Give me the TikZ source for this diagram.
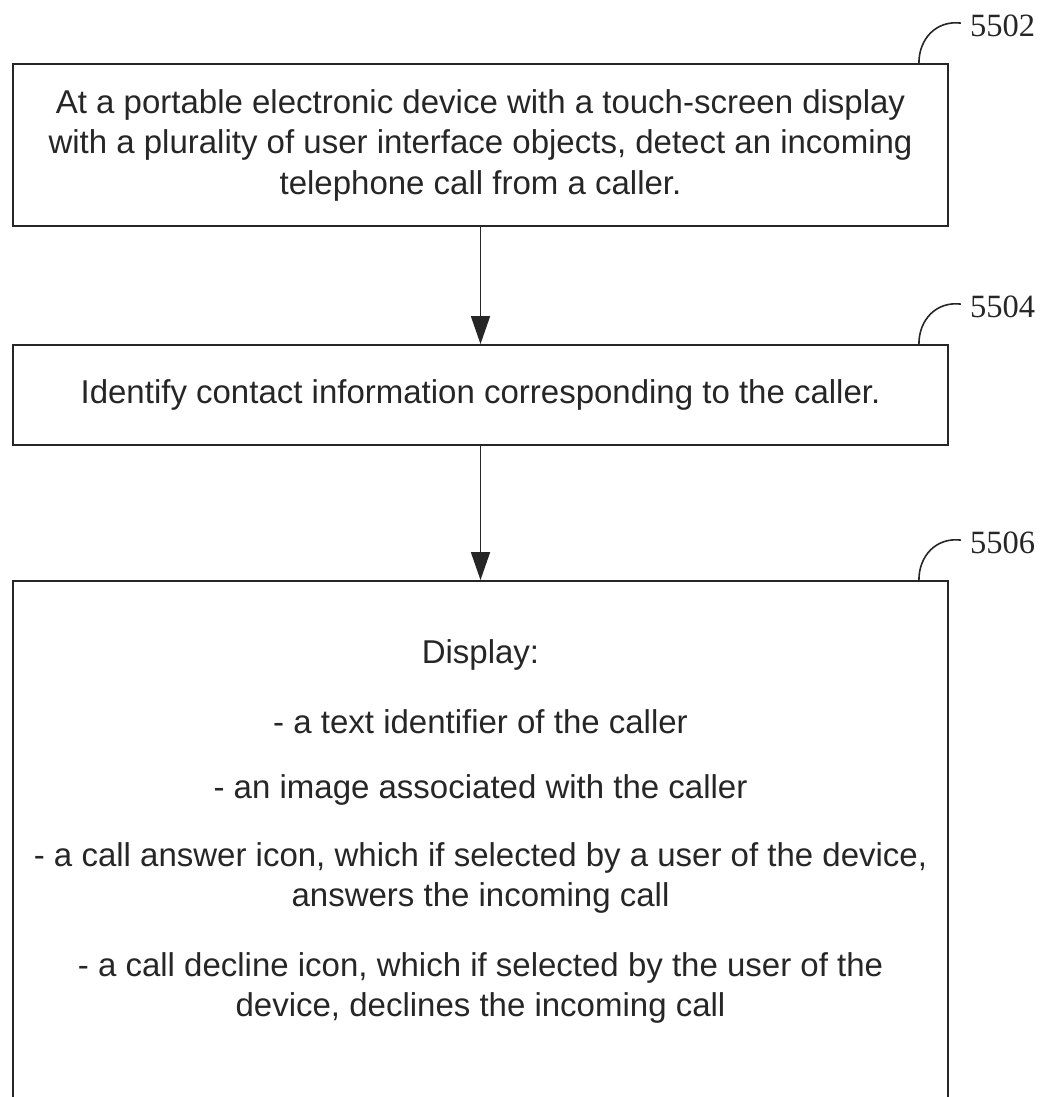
\documentclass[tikz,border=0pt]{standalone}
\usepackage{fontspec}
\setmainfont{Liberation Sans}
\newfontfamily\labelfont{Liberation Serif}
\usetikzlibrary{arrows.meta,calc}
\begin{document}
\begin{tikzpicture}[x=1pt,y=-1pt,
  box/.style={draw=black!85, line width=1.8pt, minimum width=935pt, inner sep=0pt, align=center,
    font=\fontsize{33}{40.5}\selectfont, text=black!85},
  txt/.style={font=\fontsize{33}{40}\selectfont, align=center, text=black!85, inner sep=0pt},
  reflabel/.style={font=\labelfont\fontsize{32.5}{32}\selectfont, anchor=west, text=black!85, inner sep=0pt},
  lead/.style={draw=black!85, line width=1.6pt},
  flow/.style={draw=black!85, line width=1.6pt, -{Triangle[length=28pt,width=19pt]}}]
\useasboundingbox (0,0) rectangle (1041,1097);
\clip (0,0) rectangle (1041,1097);
% boxes
\node[box, minimum height=162pt] (b1) at (480.5,145)
  {At a portable electronic device with a touch-screen display\\
   with a plurality of user interface objects, detect an incoming\\
   telephone call from a caller.};
\node[box, minimum height=100pt] (b2) at (480.5,395)
  {Identify contact information corresponding to the caller.};
\node[box, minimum height=559pt] (b3) at (480.5,860.5) {};
% texts in box 3
\node[txt] (d0) at (480.5,655) {Display:};
\node[txt] (d1) at (480.5,722) {- a text identifier of the caller};
\node[txt] (d2) at (480.5,790) {- an image associated with the caller};
\node[txt] (d3) at (480.5,878) {- a call answer icon, which if selected by a user of the device,\\answers the incoming call};
\node[txt] (d4) at (480.5,988) {- a call decline icon, which if selected by the user of the\\device, declines the incoming call};
% flow arrows
\draw[flow] (b1.south) -- (b2.north);
\draw[flow] (b2.south) -- (b3.north);
% reference labels
\coordinate (s1) at ($(b1.north east)+(-30,0)$);
\coordinate (e1) at ($(b1.north east)+(12,-40)$);
\node[reflabel] (r1) at ($(e1)+(9,3)$) {5502};
\draw[lead] (s1) .. controls ($(s1)+(0,-24)$) and ($(e1)+(-25,-3)$) .. (e1);
\coordinate (s2) at ($(b2.north east)+(-30,0)$);
\coordinate (e2) at ($(b2.north east)+(12,-40)$);
\node[reflabel] (r2) at ($(e2)+(9,3)$) {5504};
\draw[lead] (s2) .. controls ($(s2)+(0,-24)$) and ($(e2)+(-25,-3)$) .. (e2);
\coordinate (s3) at ($(b3.north east)+(-30,0)$);
\coordinate (e3) at ($(b3.north east)+(12,-40)$);
\node[reflabel] (r3) at ($(e3)+(9,3)$) {5506};
\draw[lead] (s3) .. controls ($(s3)+(0,-24)$) and ($(e3)+(-25,-3)$) .. (e3);
\end{tikzpicture}
\end{document}
